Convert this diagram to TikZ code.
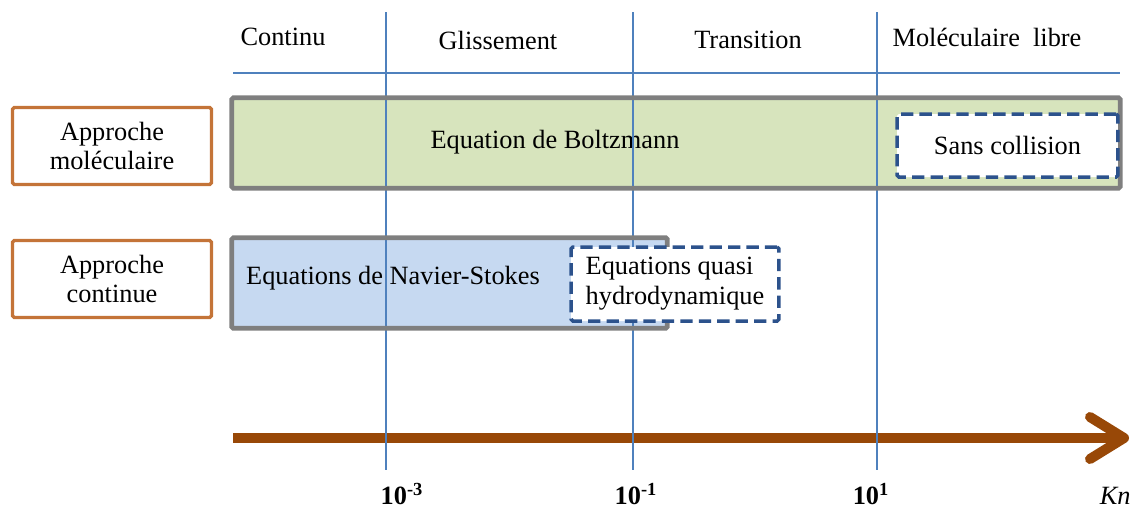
\documentclass[tikz,border=0pt]{standalone}
\usepackage{xcolor}
\usepackage{fontspec}
\setmainfont{Liberation Serif}
\usepackage{tikz}
\usetikzlibrary{positioning,arrows.meta}

\definecolor{gridblue}{RGB}{79,129,189}
\definecolor{boltzgreen}{RGB}{215,228,189}
\definecolor{nsblue}{RGB}{198,217,241}
\definecolor{regimegray}{RGB}{127,127,127}
\definecolor{approachorange}{RGB}{196,116,56}
\definecolor{limitblue}{RGB}{44,82,140}
\definecolor{axisbrown}{RGB}{152,72,7}

\tikzset{
  gridline/.style={gridblue, line width=0.055cm},
  approach/.style={draw=approachorange, line width=0.065cm, rounded corners=1pt, fill=white,
    minimum width=3.98cm, minimum height=1.54cm, inner sep=0pt, align=center},
  regime/.style={regimegray, line width=0.095cm, rounded corners=1pt},
  limitbox/.style={draw=limitblue, line width=0.07cm, dash pattern=on 7pt off 3.5pt,
    rounded corners=1pt, fill=white, inner sep=0pt},
  tick/.style={font=\fontsize{15}{17}\selectfont\bfseries, inner sep=0pt},
}

\begin{document}
\begin{tikzpicture}[x=0.02cm, y=-0.02cm, font=\fontsize{15}{17}\selectfont]
    \useasboundingbox (0,0) rectangle (1133,508);
    \clip (0,0) rectangle (1133,508);

    \coordinate (L1top) at (386, 12);
    \coordinate (L1bot) at (386, 470);
    \coordinate (L2top) at (633, 12);
    \coordinate (L2bot) at (633, 470);
    \coordinate (L3top) at (877, 12);
    \coordinate (L3bot) at (877, 470);
    \coordinate (Hleft) at (233, 73);
    \coordinate (Hright) at (1120, 73);

    \coordinate (AxStart) at (233, 438);
    \coordinate (AxEnd) at (1129, 438);

    % regime boxes
    \node [fill=boltzgreen, minimum width=17.76cm, minimum height=1.8cm] (boltzbox) at (676, 143) {};
    \node [fill=nsblue, minimum width=8.7cm, minimum height=1.8cm] (nsbox) at (449.5, 283) {};
    \node (boltz) at (555, 142) {Equation de Boltzmann};
    \node (ns) at (393, 278) {Equations de Navier-Stokes};

    % Knudsen axis
    \draw [axisbrown, line width=0.2cm,
      -{Straight Barb[length=0.68cm, width=0.84cm, line cap=round, line join=round]}]
      (AxStart) to (AxEnd);

    % regime limits
    \draw [gridline] (L1top) to (L1bot);
    \draw [gridline] (L2top) to (L2bot);
    \draw [gridline] (L3top) to (L3bot);
    \draw [gridline] (Hleft) to (Hright);

    \draw [regime] (boltzbox.south west) rectangle (boltzbox.north east);
    \draw [regime] (nsbox.south west) rectangle (nsbox.north east);

    \node [limitbox, minimum width=4.42cm, minimum height=1.26cm] (free) at (1007.5, 145.5) {Sans collision};
    \node [limitbox, minimum width=4.16cm, minimum height=1.48cm, align=left] (quasi) at (675, 284)
      {Equations quasi\\hydrodynamique};

    \node [approach] (mol) at (112, 146) {Approche\\moléculaire};
    \node [approach] (cont) at (112, 279) {Approche\\continue};

    % regimes
    \node (continu) at (283, 37) {Continu};
    \node (gliss) at (498, 40) {Glissement};
    \node (trans) at (748, 40) {Transition};
    \node (libre) at (987, 37) {Moléculaire\ \ libre};

    % Knudsen values
    \node [tick] (k3) at (402, 494) {10\textsuperscript{-3}};
    \node [tick] (k1) at (636, 494) {10\textsuperscript{-1}};
    \node [tick] (kp1) at (871, 494) {10\textsuperscript{1}};
    \node [anchor=east, inner sep=0pt] (kn) at (1131, 496) {\textit{Kn}};
\end{tikzpicture}
\end{document}
